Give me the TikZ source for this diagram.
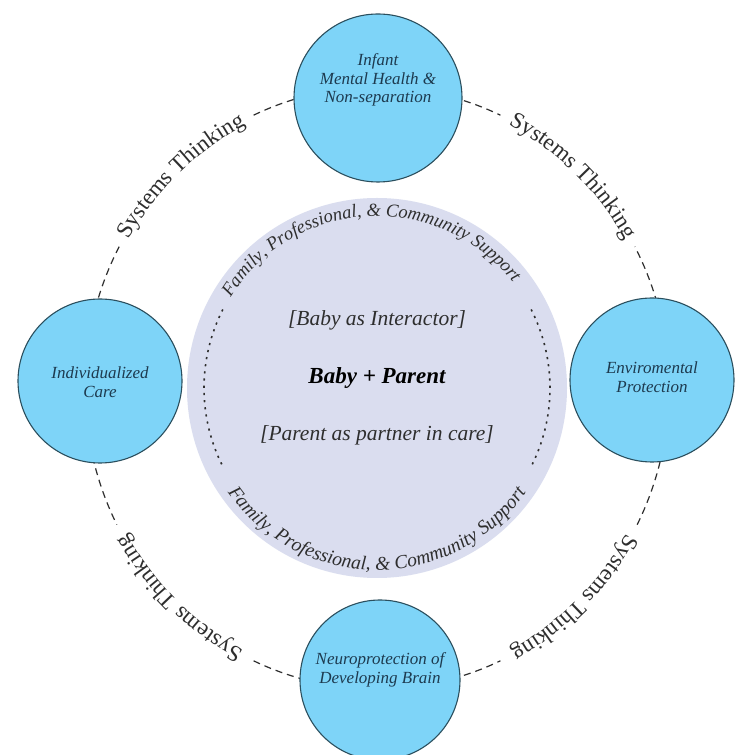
\documentclass[tikz,border=0pt]{standalone}
\usepackage{fontspec}
\setmainfont{Liberation Serif}
\usetikzlibrary{decorations.text}
\definecolor{bubblefill}{HTML}{7ED4F8}
\definecolor{bubbleline}{HTML}{2B4F5E}
\definecolor{corefill}{HTML}{DADDEF}
\definecolor{ink}{HTML}{2E2E2E}
\definecolor{bubbleink}{HTML}{1D3A4F}
\begin{document}
\begin{tikzpicture}[x=1pt,y=1pt,
  bubble/.style={circle, fill=bubblefill, draw=bubbleline, line width=1.1pt, inner sep=0pt},
  bubbletext/.style={align=center, text=bubbleink, font=\fontsize{17}{18.5}\selectfont\itshape},
  coretext/.style={text=ink, font=\fontsize{21.5}{24}\selectfont\itshape},
  ringline/.style={draw=ink, line width=1.2pt, dash pattern=on 7pt off 5pt},
  dotline/.style={draw=ink, line width=1.6pt, dash pattern=on 2.2pt off 5pt},
  ringtext/.style={decorate, decoration={text along path, text align=center, text color=ink,
     text={|\fontsize{23}{26}\selectfont|Systems Thinking}}}
]
\fill[white] (0,0) rectangle (743,755);
\useasboundingbox (0,0) rectangle (743,755);
\coordinate (C) at (377,367);
% core circle
\node[circle, fill=corefill, minimum size=380, inner sep=0pt] (core) at (C) {};
\draw[dotline] (C) ++(153:173) arc[start angle=153, end angle=207, radius=173];
\draw[dotline] (C) ++(27:173) arc[start angle=27, end angle=-27, radius=173];
\path[decorate, decoration={text along path, text align=center, text color=ink,
  text={|\fontsize{18.5}{20}\selectfont\itshape|Family, Professional, {\&} Community Support}}]
  (C) ++(171:172) arc[start angle=171, end angle=15, radius=172];
\path[decorate, decoration={text along path, text align=center, text color=ink,
  text={|\fontsize{19.5}{21}\selectfont\itshape|Family, Professional, {\&} Community Support}}]
  (C) ++(192:182) arc[start angle=192, end angle=348, radius=182];
% centre texts
\node[coretext] (interactor) at (377,435) {[Baby as Interactor]};
\node[text=black, font=\fontsize{23}{26}\selectfont\bfseries\itshape] (dyad) at (377,377) {Baby + Parent};
\node[coretext] (partner) at (377,320) {[Parent as partner in care]};
% outer dashed ring
\draw[ringline] (C) ++(115:292 and 301) arc[start angle=115, end angle=65, x radius=292, y radius=301];
\draw[ringline] (C) ++(152:292 and 301) arc[start angle=152, end angle=207, x radius=292, y radius=301];
\draw[ringline] (C) ++(245:292 and 301) arc[start angle=245, end angle=295, x radius=292, y radius=301];
\draw[ringline] (C) ++(333:292 and 301) arc[start angle=333, end angle=388, x radius=292, y radius=301];
% ring texts (clockwise, tops outward)
\path[ringtext] (C) ++(160:287 and 296) arc[start angle=160, end angle=107, x radius=287, y radius=296];
\path[ringtext] (C) ++(73:287 and 296) arc[start angle=73, end angle=20, x radius=287, y radius=296];
\path[ringtext] (C) ++(252.5:287 and 296) arc[start angle=252.5, end angle=199.5, x radius=287, y radius=296];
\path[ringtext] (C) ++(340.5:287 and 296) arc[start angle=340.5, end angle=287.5, x radius=287, y radius=296];
% bubbles
\node[bubble, minimum size=168] (imh) at (378,657) {};
\node[bubbletext] (imhtext) at (378,675) {Infant\\Mental Health \&\\Non-separation};
\node[bubble, minimum size=164] (ic) at (100,374) {};
\node[bubbletext] (ictext) at (100,373) {Individualized\\Care};
\node[bubble, minimum size=164] (ep) at (652,375) {};
\node[bubbletext] (eptext) at (652,378) {Enviromental\\Protection};
\node[bubble, minimum size=160] (np) at (380,75) {};
\node[bubbletext] (nptext) at (380,85) {Neuroprotection of\\Developing Brain};
\end{tikzpicture}
\end{document}
